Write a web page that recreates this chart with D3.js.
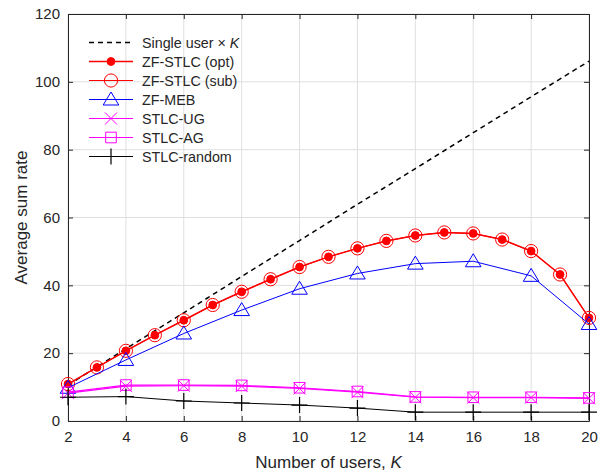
<!DOCTYPE html>
<html>
<head>
<meta charset="utf-8">
<script src="https://cdn.jsdelivr.net/npm/d3@7"></script>
<style>
  html, body { margin: 0; padding: 0; background: #fff; }
  svg text { font-family: "Liberation Sans", Arial, Helvetica, sans-serif; fill: #262626; }
</style>
</head>
<body>
<svg id="chart" width="610" height="473"></svg>
<script>
// Number of users K
const kAll = [2, 3, 4, 5, 6, 7, 8, 9, 10, 11, 12, 13, 14, 15, 16, 17, 18, 19, 20];
const kEven = [2, 4, 6, 8, 10, 12, 14, 16, 18, 20];

// Average sum rate per scheme
const singleUserTimesK = [10.6, 21.3, 31.9, 42.6, 53.2, 63.9, 74.4, 85.0, 95.6, 106.1];
const zfStlcOpt = [10.9, 15.8, 20.7, 25.3, 29.7, 34.2, 38.1, 41.8, 45.4, 48.4, 50.9, 53.1, 54.7, 55.6, 55.3, 53.5, 50.1, 43.2, 30.4];
const zfStlcSub = [10.9, 15.8, 20.7, 25.3, 29.7, 34.2, 38.1, 41.8, 45.4, 48.4, 50.9, 53.1, 54.7, 55.6, 55.3, 53.5, 50.1, 43.2, 30.4];
const zfMeb = [9.8, 18.0, 25.8, 32.7, 39.0, 43.5, 46.4, 47.1, 42.8, 28.6];
const stlcUg = [8.2, 10.3, 10.4, 10.3, 9.6, 8.5, 7.0, 6.9, 6.9, 6.7];
const stlcAg = [8.5, 10.6, 10.6, 10.5, 9.8, 8.7, 7.1, 7.0, 7.0, 6.8];
const stlcRandom = [7.0, 7.2, 5.9, 5.3, 4.7, 3.8, 2.6, 2.6, 2.6, 2.6];

const xTicks = [2, 4, 6, 8, 10, 12, 14, 16, 18, 20];
const yTicks = [0, 20, 40, 60, 80, 100, 120];

const legendLabels = ["Single user \u00d7 ", "ZF-STLC (opt)", "ZF-STLC (sub)", "ZF-MEB", "STLC-UG", "STLC-AG", "STLC-random"];

const svg = d3.select("#chart");
const m = { left: 68, top: 14, right: 589, bottom: 421 };
const x = d3.scaleLinear().domain([2, 20]).range([m.left, m.right]);
const y = d3.scaleLinear().domain([0, 120]).range([m.bottom, m.top]);

const axisColor = "#262626";
const gridColor = "#dfdfdf";

// grid
const grid = svg.append("g");
grid.selectAll(".gx").data(xTicks).join("line")
  .attr("x1", d => x(d)).attr("x2", d => x(d))
  .attr("y1", m.top).attr("y2", m.bottom)
  .attr("stroke", gridColor).attr("stroke-width", 1);
grid.selectAll(".gy").data(yTicks).join("line")
  .attr("x1", m.left).attr("x2", m.right)
  .attr("y1", d => y(d)).attr("y2", d => y(d))
  .attr("stroke", gridColor).attr("stroke-width", 1);

// axes with inward ticks on all four sides
const tickLen = 5;
const xb = svg.append("g").attr("transform", `translate(0,${m.bottom})`)
  .call(d3.axisBottom(x).tickValues(xTicks).tickSizeInner(-tickLen).tickSizeOuter(0).tickPadding(10));
const xt = svg.append("g").attr("transform", `translate(0,${m.top})`)
  .call(d3.axisTop(x).tickValues(xTicks).tickSizeInner(-tickLen).tickSizeOuter(0).tickFormat(""));
const yl = svg.append("g").attr("transform", `translate(${m.left},0)`)
  .call(d3.axisLeft(y).tickValues(yTicks).tickSizeInner(-tickLen).tickSizeOuter(0).tickPadding(8));
const yr = svg.append("g").attr("transform", `translate(${m.right},0)`)
  .call(d3.axisRight(y).tickValues(yTicks).tickSizeInner(-tickLen).tickSizeOuter(0).tickFormat(""));
[xb, xt, yl, yr].forEach(g => {
  g.select(".domain").attr("stroke", axisColor).attr("stroke-width", 1);
  g.selectAll(".tick line").attr("stroke", axisColor).attr("stroke-width", 1);
  g.selectAll(".tick text").attr("font-size", 15).attr("fill", axisColor)
    .attr("font-family", "Liberation Sans, Arial, sans-serif");
});
xb.selectAll(".tick text").attr("dy", "0.71em");

// axis labels
const xLab = svg.append("text").attr("x", (m.left + m.right) / 2).attr("y", 468)
  .attr("text-anchor", "middle").attr("font-size", 17);
xLab.append("tspan").text("Number of users, ");
xLab.append("tspan").attr("font-style", "italic").text("K");

svg.append("text").attr("transform", `translate(27,${(m.top + m.bottom) / 2}) rotate(-90)`)
  .attr("text-anchor", "middle").attr("font-size", 17).text("Average sum rate");

// marker drawers
const markers = {
  dot: (g, c) => g.append("circle").attr("r", 3.9).attr("fill", c).attr("stroke", c),
  circle: (g, c) => g.append("circle").attr("r", 6.6).attr("fill", "none").attr("stroke", c).attr("stroke-width", 1),
  triangle: (g, c) => g.append("path").attr("d", "M0,-7.5L7.8,5.5L-7.8,5.5Z").attr("fill", "none").attr("stroke", c).attr("stroke-width", 1),
  cross: (g, c) => g.append("path").attr("d", "M-6,-6L6,6M-6,6L6,-6").attr("fill", "none").attr("stroke", c).attr("stroke-width", 1),
  square: (g, c) => g.append("path").attr("d", "M-5.3,-5.3H5.3V5.3H-5.3Z").attr("fill", "none").attr("stroke", c).attr("stroke-width", 1),
  plus: (g, c) => g.append("path").attr("d", "M-8,0H8M0,-8V8").attr("fill", "none").attr("stroke", c).attr("stroke-width", 1.2),
  none: () => {}
};

const series = [
  { ks: kEven, vals: singleUserTimesK, color: "#000", width: 1.5, dash: "5,4", marker: "none" },
  { ks: kAll, vals: zfStlcOpt, color: "#ff0000", width: 1.5, dash: null, marker: "dot" },
  { ks: kAll, vals: zfStlcSub, color: "#ff0000", width: 1, dash: null, marker: "circle" },
  { ks: kEven, vals: zfMeb, color: "#0000ff", width: 1, dash: null, marker: "triangle" },
  { ks: kEven, vals: stlcUg, color: "#ff00ff", width: 1.2, dash: null, marker: "cross" },
  { ks: kEven, vals: stlcAg, color: "#ff00ff", width: 1.2, dash: null, marker: "square" },
  { ks: kEven, vals: stlcRandom, color: "#000", width: 1, dash: null, marker: "plus" }
];

const line = d3.line().x(d => x(d[0])).y(d => y(d[1]));
const plot = svg.append("g");
series.forEach(s => {
  const pts = s.ks.map((k, i) => [k, s.vals[i]]);
  plot.append("path").datum(pts).attr("d", line)
    .attr("fill", "none").attr("stroke", s.color).attr("stroke-width", s.width)
    .attr("stroke-dasharray", s.dash);
  pts.forEach(p => {
    const g = plot.append("g").attr("transform", `translate(${x(p[0])},${y(p[1])})`);
    markers[s.marker](g, s.color);
  });
});

// legend
const leg = svg.append("g");
const rowY = d3.scaleLinear().domain([0, 1]).range([42.5, 61.5]);
series.forEach((s, i) => {
  const yy = rowY(i);
  leg.append("line").attr("x1", 89).attr("x2", 133).attr("y1", yy).attr("y2", yy)
    .attr("stroke", s.color).attr("stroke-width", s.width).attr("stroke-dasharray", s.dash);
  const g = leg.append("g").attr("transform", `translate(111,${yy})`);
  markers[s.marker](g, s.color);
  const t = leg.append("text").attr("x", 142).attr("y", yy).attr("dy", "0.35em").attr("font-size", 14.3);
  t.append("tspan").text(legendLabels[i]);
  if (i === 0) t.append("tspan").attr("font-style", "italic").text("K");
});
</script>
</body>
</html>
